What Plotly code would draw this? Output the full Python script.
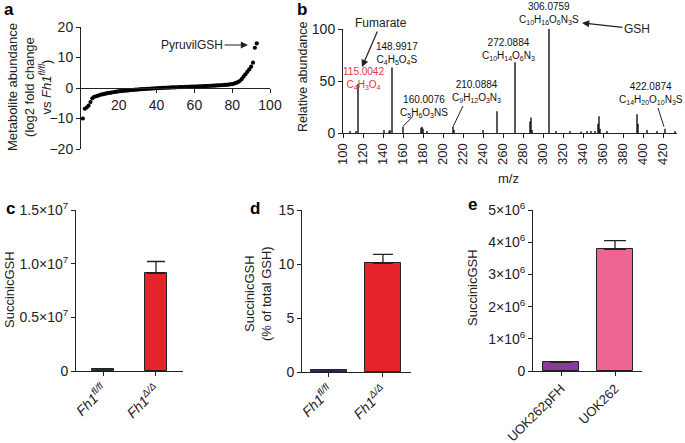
import plotly.graph_objects as go

W, H = 685, 443
def PX(x): return x / W
def PY(y): return 1 - y / H

FONT = "Liberation Sans, Arial, Helvetica, sans-serif"

# ---------------- Panel a data ----------------
a_rank = list(range(1, 94))
a_log2fc = [-10.0, -6.8, -6.4, -5.8, -4.6, -3.4, -2.9, -2.7, -2.5, -2.3,
            -2.1, -2.0, -1.85, -1.7, -1.6, -1.5, -1.4, -1.3, -1.2, -1.1,
            -1.0, -0.95, -0.9, -0.85, -0.8, -0.72, -0.65, -0.6, -0.55, -0.5,
            -0.45, -0.4, -0.36, -0.32, -0.28, -0.24, -0.2, -0.16, -0.12, -0.08,
            -0.04, 0.0, 0.03, 0.06, 0.09, 0.12, 0.15, 0.18, 0.2, 0.22,
            0.25, 0.28, 0.3, 0.33, 0.36, 0.38, 0.4, 0.43, 0.46, 0.48,
            0.5, 0.53, 0.56, 0.58, 0.6, 0.63, 0.66, 0.7, 0.73, 0.76,
            0.8, 0.83, 0.87, 0.9, 0.95, 1.0, 1.05, 1.1, 1.2, 1.3,
            1.45, 1.65, 1.9, 2.3, 2.9, 3.7, 4.5, 5.3, 6.1, 7.0,
            8.3, 13.2, 14.6]
a_xticks = [20, 40, 60, 80, 100]
a_yticks = [-20, -10, 0, 10, 20]

# ---------------- Panel b data ----------------
b_mz = [107, 113, 115, 141, 146, 147, 149, 160, 178, 179, 180, 184, 210, 211,
        240, 254, 272, 287, 288, 289, 306, 313, 327, 338, 344, 348, 352, 355,
        356, 357, 364, 394, 395, 404, 414, 422, 432]
b_int = [2, 2, 47, 3, 2, 3, 63, 6, 5, 6, 4, 2, 6, 3,
         3, 21, 68, 11, 15, 3, 100, 2, 2, 1.5, 2, 2, 2, 9,
         16, 4, 2, 18, 9, 3, 2, 4, 2]
b_xticks = list(range(100, 421, 20))
b_yticks = [0, 50, 100]
b_labels = [
    ("115.0042", "C<sub>4</sub>H<sub>3</sub>O<sub>4</sub>", "#e8313f"),
    ("148.9917", "C<sub>4</sub>H<sub>5</sub>O<sub>4</sub>S", "#111111"),
    ("160.0076", "C<sub>5</sub>H<sub>6</sub>O<sub>3</sub>NS", "#111111"),
    ("210.0884", "C<sub>9</sub>H<sub>12</sub>O<sub>3</sub>N<sub>3</sub>", "#111111"),
    ("272.0884", "C<sub>10</sub>H<sub>14</sub>O<sub>6</sub>N<sub>3</sub>", "#111111"),
    ("306.0759", "C<sub>10</sub>H<sub>16</sub>O<sub>6</sub>N<sub>3</sub>S", "#111111"),
    ("422.0874", "C<sub>14</sub>H<sub>20</sub>O<sub>10</sub>N<sub>3</sub>S", "#111111"),
]
b_label_pos = [(363, 78), (397, 54), (424, 106), (476, 91), (508, 49), (549, 13), (651, 94)]

# ---------------- Panels c, d, e data ----------------
c_categories = ["<i>Fh1</i><sup><i>fl/fl</i></sup>", "<i>Fh1</i><sup><i>Δ/Δ</i></sup>"]
c_values = [0.02e7, 0.91e7]
c_errors = [0.003e7, 0.11e7]
c_colors = ["#283d86", "#e5252b"]
c_yticks = [0, 0.5e7, 1.0e7, 1.5e7]
c_yticktext = ["0", "0.5×10<sup>7</sup>", "1.0×10<sup>7</sup>", "1.5×10<sup>7</sup>"]

d_categories = c_categories
d_values = [0.2, 10.05]
d_errors = [0.02, 0.85]
d_colors = ["#283d86", "#e5252b"]
d_yticks = [0, 5, 10, 15]

e_categories = ["UOK262pFH", "UOK262"]
e_values = [0.27e6, 3.78e6]
e_errors = [0.02e6, 0.27e6]
e_colors = ["#8a3a98", "#ee6592"]
e_yticks = [0, 1e6, 2e6, 3e6, 4e6, 5e6]
e_yticktext = ["0", "1×10<sup>6</sup>", "2×10<sup>6</sup>", "3×10<sup>6</sup>",
               "4×10<sup>6</sup>", "5×10<sup>6</sup>"]

fig = go.Figure()

fig.add_trace(go.Scatter(x=a_rank, y=a_log2fc, mode="markers",
                         marker=dict(color="black", size=4.2),
                         xaxis="x", yaxis="y", showlegend=False))

sx, sy = [], []
for m, h in zip(b_mz, b_int):
    sx += [m, m, None]
    sy += [0, h, None]
fig.add_trace(go.Scatter(x=sx, y=sy, mode="lines",
                         line=dict(color="black", width=1.3),
                         xaxis="x2", yaxis="y2", showlegend=False))

def add_bars(cats, vals, errs, colors, xa, ya, width, capw):
    fig.add_trace(go.Bar(x=cats, y=vals, width=width,
                         marker=dict(color=colors, line=dict(color="#222222", width=1)),
                         error_y=dict(type="data", symmetric=False, array=errs,
                                      arrayminus=[0] * len(errs), color="#222222",
                                      thickness=1.3, width=capw),
                         xaxis=xa, yaxis=ya, showlegend=False))

add_bars(c_categories, c_values, c_errors, c_colors, "x3", "y3", 0.42, 9)
add_bars(d_categories, d_values, d_errors, d_colors, "x4", "y4", 0.67, 10)
add_bars(e_categories, e_values, e_errors, e_colors, "x5", "y5", 0.67, 11)

def ax(size=14, **kw):
    d = dict(showgrid=False, zeroline=False, showline=True, linecolor="#222222",
             linewidth=1, ticks="outside", ticklen=4, tickcolor="#222222",
             automargin=False,
             tickfont=dict(family=FONT, size=size, color="#222222"))
    d.update(kw)
    return d

layout = dict(
    width=W, height=H, margin=dict(l=0, r=0, t=0, b=0, autoexpand=False),
    paper_bgcolor="white", plot_bgcolor="white", bargap=0,
    font=dict(family=FONT, color="#222222"),
    xaxis=ax(domain=[PX(81), PX(270)], range=[0, 100], anchor="free", position=PY(88),
             tickvals=a_xticks),
    yaxis=ax(domain=[PY(149), PY(27)], range=[-20, 20], anchor="x", tickvals=a_yticks),
    xaxis2=ax(size=13, domain=[PX(343), PX(677)], range=[100, 434], anchor="y2",
              tickvals=b_xticks, tickangle=-90),
    yaxis2=ax(domain=[PY(133), PY(29)], range=[0, 100], anchor="x2", tickvals=b_yticks),
    xaxis3=ax(domain=[PX(76), PX(183)], range=[-0.51, 1.51], anchor="y3", tickangle=-45),
    yaxis3=ax(domain=[PY(371), PY(210)], range=[0, 1.5e7], anchor="x3",
              tickvals=c_yticks, ticktext=c_yticktext),
    xaxis4=ax(domain=[PX(302), PX(411)], range=[-0.5, 1.52], anchor="y4", tickangle=-45),
    yaxis4=ax(domain=[PY(372), PY(210)], range=[0, 15], anchor="x4", tickvals=d_yticks),
    xaxis5=ax(size=13, domain=[PX(533), PX(642)], range=[-0.52, 1.5], anchor="y5",
              tickangle=-45),
    yaxis5=ax(domain=[PY(371), PY(210)], range=[0, 5e6], anchor="x5",
              tickvals=e_yticks, ticktext=e_yticktext),
)
fig.update_layout(**layout)

ann = []
def text(x, y, t, size=13, color="#222222", angle=0, xanchor="center"):
    ann.append(dict(x=PX(x), y=PY(y), xref="paper", yref="paper", text=t, showarrow=False,
                    textangle=angle, xanchor=xanchor, yanchor="middle",
                    font=dict(family=FONT, size=size, color=color)))

for lx, ly, lt in [(9, 10, "a"), (302, 10, "b"), (10, 208, "c"), (255, 208, "d"), (473, 204, "e")]:
    text(lx, ly, "<b>%s</b>" % lt, size=17, color="black")

text(30, 87, "Metabolite abundance<br>(log2 fold change<br>vs <i>Fh1</i><sup><i>fl/fl</i></sup>)",
     size=13, angle=-90)
text(303, 77, "Relative abundance", size=12.5, angle=-90)
text(508, 178, "m/z", size=13)
text(9, 290, "SuccinicGSH", size=13, angle=-90)
text(258, 294, "SuccinicGSH<br>(% of total GSH)", size=13, angle=-90)
text(472, 288, "SuccinicGSH", size=13, angle=-90)

for (lab, form, col), (lx, ly) in zip(b_labels, b_label_pos):
    text(lx, ly, "%s<br>%s" % (lab, form), size=10, color=col)

def arrow(hx, hy, tx, ty, t):
    ann.append(dict(x=PX(hx), y=PY(hy), xref="paper", yref="paper", text=t,
                    showarrow=True, arrowhead=2, arrowsize=1.2, arrowwidth=1.2,
                    arrowcolor="#222222", ax=tx - hx, ay=ty - hy,
                    font=dict(family=FONT, size=12, color="#222222")))

arrow(248, 45, 192, 45, "PyruvilGSH")
arrow(362, 67, 381, 23, "Fumarate")
arrow(582, 23, 637, 29, "GSH")

fig.update_layout(annotations=ann)

for (x0, y0, x1, y1) in [(160, 6.5, 170, 16), (210, 6, 220, 26), (421, 6, 415, 24)]:
    fig.add_shape(type="line", xref="x2", yref="y2", x0=x0, y0=y0, x1=x1, y1=y1,
                  line=dict(color="#222222", width=1))

fig.write_html("out.html", config={"displayModeBar": False},
               post_script="document.body.style.margin='0px';document.body.style.padding='0px';")
